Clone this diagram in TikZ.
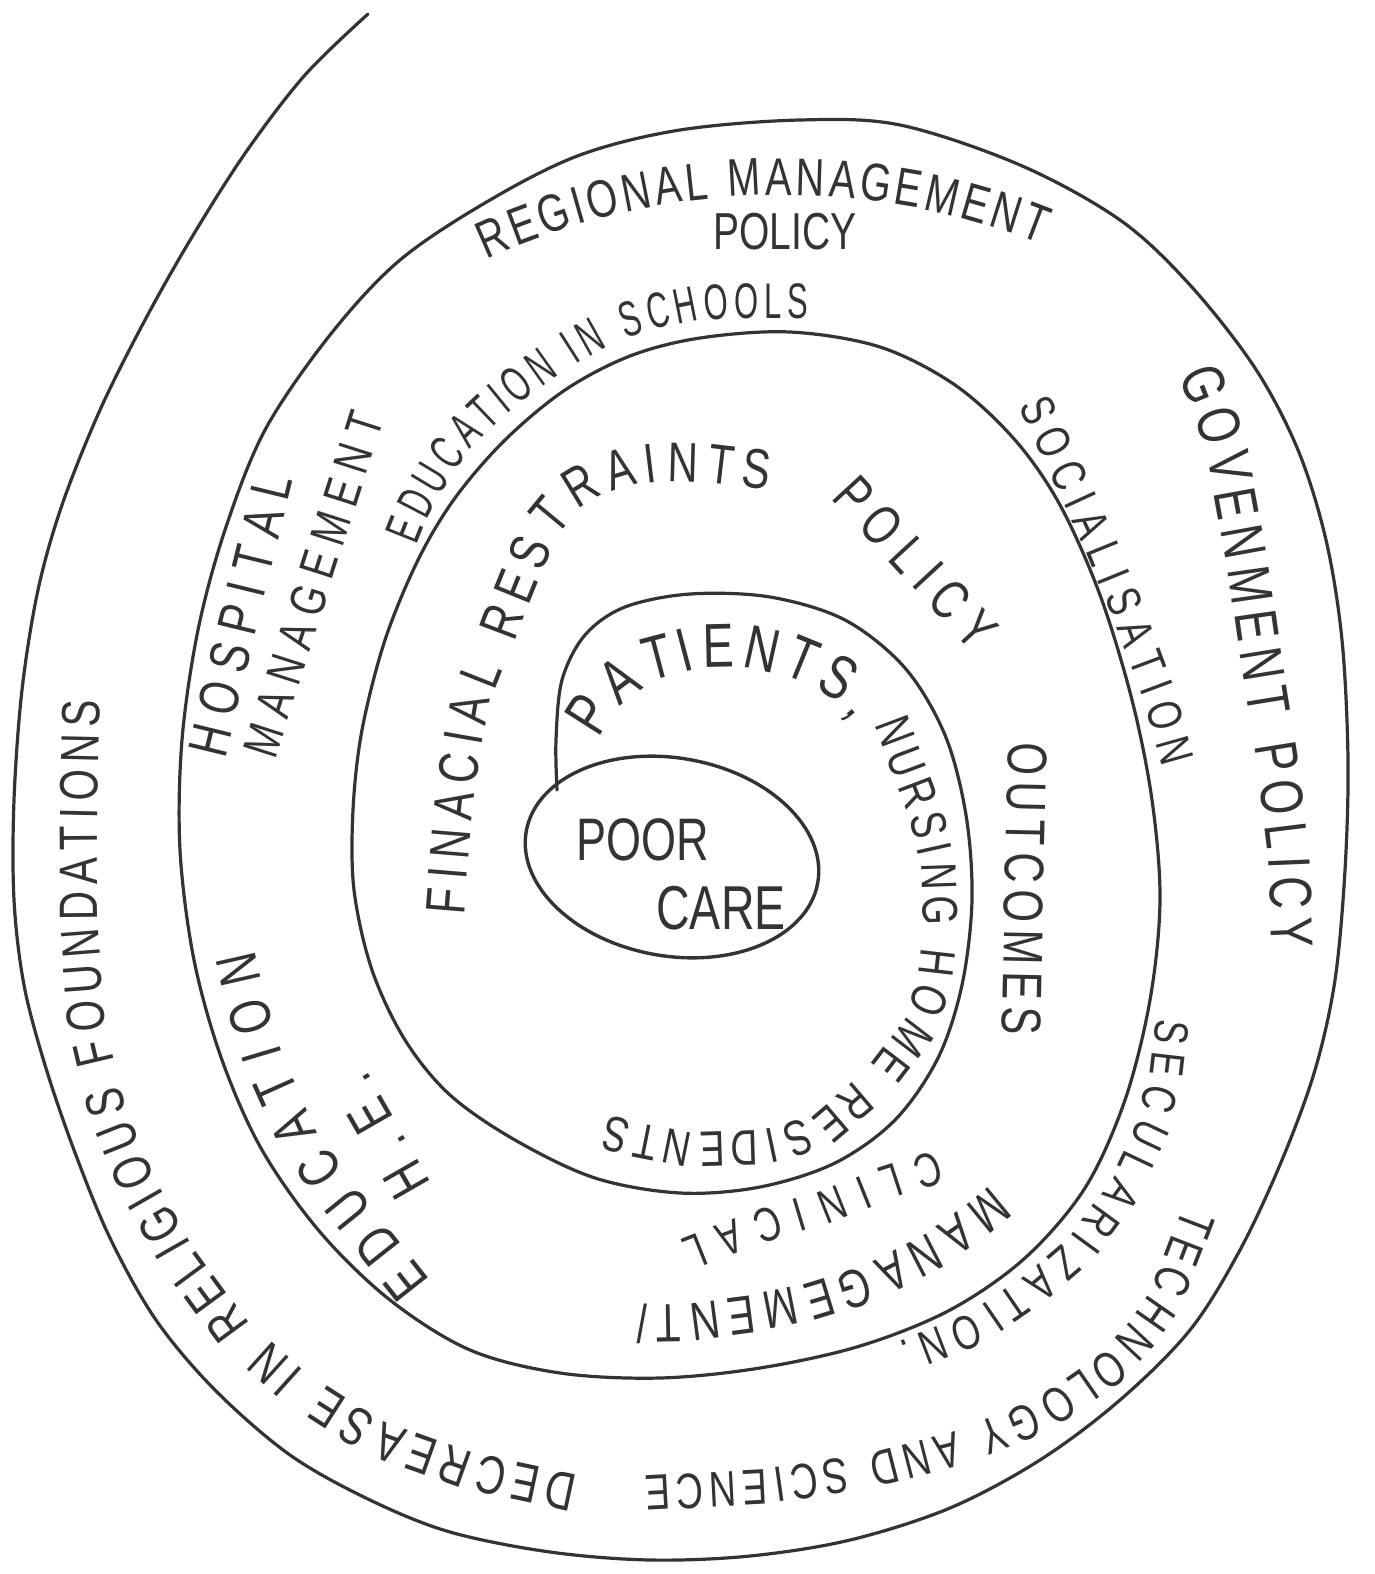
\documentclass[tikz,border=0pt]{standalone}
\usepackage{fontspec}
\newfontfamily\hand[FakeStretch=0.75]{Liberation Sans}
\newfontfamily\handn[FakeStretch=0.62]{Liberation Sans}
\usetikzlibrary{decorations.text,shapes.geometric}
\definecolor{ink}{HTML}{333333}
\newcommand\hsRM{\hand\fontsize{26.5pt}{26.5pt}\selectfont\color{ink}}
\newcommand\hsES{\handn\fontsize{25pt}{25pt}\selectfont\color{ink}}
\newcommand\hsGP{\hand\fontsize{30pt}{30pt}\selectfont\color{ink}}
\newcommand\hsSO{\hand\fontsize{24pt}{24pt}\selectfont\color{ink}}
\newcommand\hsHO{\hand\fontsize{28pt}{28pt}\selectfont\color{ink}}
\newcommand\hsMA{\hand\fontsize{25pt}{25pt}\selectfont\color{ink}}
\newcommand\hsFR{\hand\fontsize{28pt}{28pt}\selectfont\color{ink}}
\newcommand\hsPI{\hand\fontsize{28pt}{28pt}\selectfont\color{ink}}
\newcommand\hsPA{\hand\fontsize{31pt}{31pt}\selectfont\color{ink}}
\newcommand\hsNH{\hand\fontsize{25pt}{25pt}\selectfont\color{ink}}
\newcommand\hsOU{\hand\fontsize{28pt}{28pt}\selectfont\color{ink}}
\newcommand\hsCL{\hand\fontsize{24pt}{24pt}\selectfont\color{ink}}
\newcommand\hsMG{\hand\fontsize{27pt}{27pt}\selectfont\color{ink}}
\newcommand\hsSE{\hand\fontsize{24pt}{24pt}\selectfont\color{ink}}
\newcommand\hsTS{\hand\fontsize{25pt}{25pt}\selectfont\color{ink}}
\newcommand\hsDR{\hand\fontsize{27pt}{27pt}\selectfont\color{ink}}
\newcommand\hsED{\hand\fontsize{29pt}{29pt}\selectfont\color{ink}}
\newcommand\hsHE{\hand\fontsize{29pt}{29pt}\selectfont\color{ink}}
\begin{document}
\begin{tikzpicture}[x=0.5pt,y=-0.5pt,color=ink,
  spiralline/.style={draw=ink, line width=1.6pt, line cap=round, line join=round},
  lbl/.style={text=ink, inner sep=0pt},
  along/.style={decorate, decoration={text along path, text align={fit to path}, text={#1}}}]
\useasboundingbox (0,0) rectangle (1375,1574);

% the spiral, from the centre outwards
\draw[spiralline] plot[smooth, tension=0.55] coordinates {
(557,790) (556,740) (562,680) (585,635) (625,607) (690,594) (770,597) (845,620) (905,668) (945,735) (966,815) (972,900) (962,985) (938,1058) (895,1120) (835,1163) (760,1187) (680,1193) (595,1178) (515,1140) (450,1095) (405,1040) (372,970) (354,890) (353,810) (362,730) (385,640) (418,560) (455,498) (505,440) (565,390) (630,356) (700,338) (790,332) (880,347) (955,385) (1015,440) (1060,505) (1100,595) (1132,700) (1152,800) (1160,900) (1150,1000) (1125,1100) (1085,1188) (1025,1258) (950,1310) (860,1346) (760,1368) (660,1378) (560,1373) (470,1350) (390,1300) (320,1232) (262,1150) (222,1060) (194,960) (180,850) (182,740) (198,630) (225,530) (265,430) (330,335) (400,260) (490,200) (580,155) (680,130) (800,120) (900,125) (1020,165) (1120,220) (1190,285) (1255,368) (1298,450) (1326,540) (1342,640) (1348,760) (1345,870) (1335,980) (1315,1070) (1282,1160) (1240,1250) (1190,1330) (1120,1400) (1040,1460) (950,1508) (850,1540) (750,1556) (650,1560) (550,1552) (450,1532) (370,1500) (290,1455) (215,1390) (156,1320) (110,1238) (74,1150) (45,1065) (24,985) (14,900) (14,800) (22,690) (38,590) (62,505) (100,410) (145,320) (192,237) (246,152) (305,75) (368,14)};

% central ellipse
\node[draw=ink, line width=1.7pt, ellipse, minimum width=148pt, minimum height=99pt, inner sep=0pt, rotate=-10] (poorcare) at (672,857) {};
\node[lbl, font=\hand\fontsize{30pt}{30pt}\selectfont] (poor) at (643,840) {POOR};
\node[lbl, font=\hand\fontsize{31pt}{31pt}\selectfont] (care) at (721,908) {CARE};
\node[lbl, font=\hand\fontsize{26pt}{26pt}\selectfont] (policytop) at (785,232) {POLICY};

% labels along the bands
\path[along={|\hsRM|REGIONAL MANAGEMENT}] plot[domain=114.5:68.5, samples=30] ({781+711*cos(\x)},{906-711*sin(\x)});
\path[along={|\hsES|EDUCATION IN SCHOOLS}] (416,545) -- (424,525) -- (437,500) -- (455,470) -- (476,443) -- (500,420) -- (527,398) -- (555,378) -- (580,362) -- (605,348) -- (632,337) -- (660,328) -- (695,321) -- (730,318) -- (808,318);
\path[along={|\hsGP|GOVENMENT POLICY}] (1178,375) -- (1195,418) -- (1209,465) -- (1227,564) -- (1241,663) -- (1257,762) -- (1268,851) -- (1272,948);
\path[along={|\hsSO|SOCIALISATION}] (1018,406) -- (1052,478) -- (1088,556) -- (1118,630) -- (1143,697) -- (1163,768);
\path[along={|\hsHO|HOSPITAL}] (225,759) -- (293,480);
\path[along={|\hsMA|MANAGEMENT}] (275,760) -- (384,419);
\path[along={|\hsFR|FINACIAL RESTRAINTS}] (464,915) -- (471,830) -- (478,768) -- (489,705) -- (502,672) -- (516,640) -- (533,595) -- (548,558) -- (563,530) -- (582,507) -- (605,493) -- (632,485) -- (665,481) -- (700,482) -- (768,490);
\path[along={|\hsPI|POLICY}] (830,498) -- (973,653);
\path[along={|\hsPA|PATIENTS,}] (598,738) -- (612,716) -- (628,700) -- (644,688) -- (662,678) -- (700,668) -- (745,667) -- (790,677) -- (812,686) -- (830,697) -- (843,708) -- (853,720);
\path[along={|\hsNH|NURSING HOME RESIDENTS}] (874,724) -- (892,772) -- (911,822) -- (922,871) -- (924,930) -- (918,983) -- (901,1025) -- (878,1055) -- (852,1083) -- (818,1112) -- (788,1124) -- (755,1131) -- (690,1133) -- (630,1121) -- (608,1115);
\path[along={|\hsOU|OUTCOMES}] (1008,742) -- (1002,1035);
\path[along={|\hsCL|CLINICAL}] (935,1150) -- (880,1168) -- (825,1190) -- (765,1208) -- (700,1232) -- (680,1240);
\path[along={|\hsMG|MANAGEMENT/}] (990,1185) -- (956,1213) -- (925,1235) -- (865,1266) -- (803,1285) -- (742,1297) -- (688,1304) -- (636,1305);
\path[along={|\hsSE|SECULARIZATION.}] (1156,1018) -- (1150,1070) -- (1135,1128) -- (1108,1185) -- (1070,1237) -- (1022,1278) -- (968,1315) -- (898,1342);
\path[along={|\hsTS|TECHNOLOGY AND SCIENCE}] (1183,1207) -- (1150,1293) -- (1127,1326) -- (1100,1355) -- (1035,1400) -- (955,1432) -- (865,1455) -- (760,1470) -- (645,1476);
\path[along={|\hsDR|DECREASE IN RELIGIOUS FOUNDATIONS}] (578,1475) -- (470,1452) -- (380,1420) -- (305,1372) -- (245,1318) -- (195,1250) -- (155,1180) -- (125,1105) -- (105,1020) -- (98,930) -- (97,830) -- (100,700);
\path[along={|\hsED|EDUCATION}] (430,1280) -- (392,1232) -- (350,1180) -- (312,1120) -- (283,1055) -- (262,985) -- (254,950);
\path[along={|\hsHE|H.E.}] (431,1183) -- (366,1070);
\end{tikzpicture}
\end{document}
